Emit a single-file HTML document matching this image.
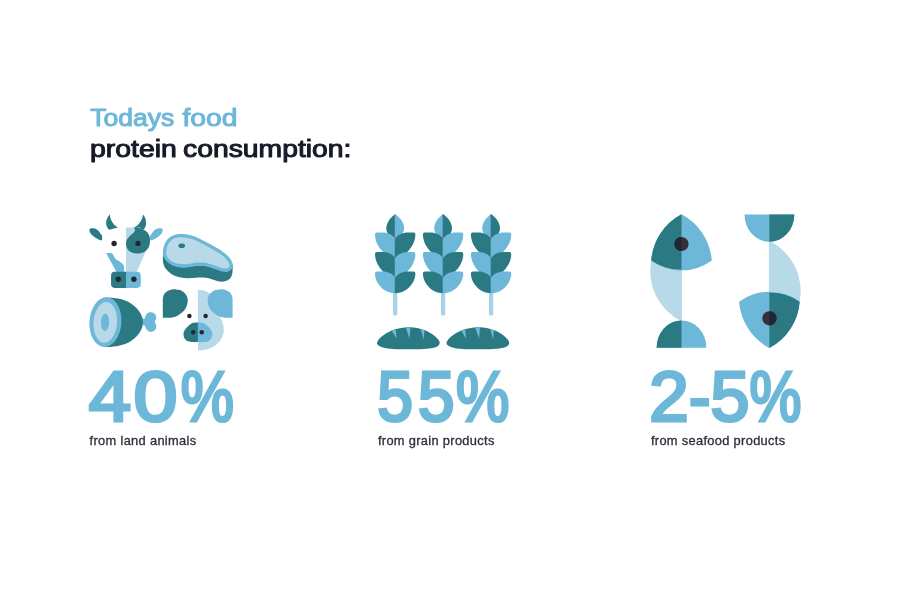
<!DOCTYPE html>
<html lang="en"><head><meta charset="utf-8"><title>Todays food protein consumption</title>
<style>
html,body{margin:0;padding:0;background:#fff;}
body{width:900px;height:600px;overflow:hidden;font-family:"Liberation Sans",Arial,sans-serif;}
svg{display:block;}
</style></head><body>
<svg width="900" height="600" viewBox="0 0 900 600">
<rect width="900" height="600" fill="#ffffff"/>
<path d="M89.40,230.50 C89.30,229.80 89.50,229.38 89.80,229.00 C90.10,228.62 90.50,228.32 91.20,228.20 C91.90,228.08 93.07,228.10 94.00,228.30 C94.93,228.50 96.00,228.92 96.80,229.40 C97.60,229.88 98.13,230.43 98.80,231.20 C99.47,231.97 100.27,233.23 100.80,234.00 C101.33,234.77 101.82,234.78 102.00,235.80 C102.18,236.82 102.37,239.45 101.90,240.10 C101.43,240.75 100.18,240.03 99.20,239.70 C98.22,239.37 97.07,238.77 96.00,238.10 C94.93,237.43 93.73,236.52 92.80,235.70 C91.87,234.88 90.97,234.07 90.40,233.20 C89.83,232.33 89.50,231.20 89.40,230.50Z" fill="#2b7a83"/>
<path d="M162.80,230.50 C162.90,229.80 162.70,229.38 162.40,229.00 C162.10,228.62 161.70,228.32 161.00,228.20 C160.30,228.08 159.13,228.10 158.20,228.30 C157.27,228.50 156.20,228.92 155.40,229.40 C154.60,229.88 154.07,230.43 153.40,231.20 C152.73,231.97 151.93,233.23 151.40,234.00 C150.87,234.77 150.38,234.78 150.20,235.80 C150.02,236.82 149.83,239.45 150.30,240.10 C150.77,240.75 152.02,240.03 153.00,239.70 C153.98,239.37 155.13,238.77 156.20,238.10 C157.27,237.43 158.47,236.52 159.40,235.70 C160.33,234.88 161.23,234.07 161.80,233.20 C162.37,232.33 162.70,231.20 162.80,230.50Z" fill="#6db7d8"/>
<path d="M109.7,214.3 C107,217.5 105.6,221.5 106.2,224.5 C106.7,227 108,228.8 109.3,229.8 L118,227.5 C114,225.5 110.3,221 109.7,214.3Z" fill="#2b7a83"/>
<path d="M143,214.6 C145.6,217.5 146.6,221.5 146,224.5 C145.5,227 144.8,228.3 143.7,229.6 L134.3,227.6 C138.5,225.5 142.2,221 143,214.6Z" fill="#2b7a83"/>
<path d="M126,227.4 L140,227.4 L149,240 L146.2,250.5 L136.7,271.9 L126,271.9Z" fill="#b7d9e8"/>
<path d="M134.40,227.30 C133.73,227.60 135.05,228.98 135.00,229.80 C134.95,230.62 134.70,231.40 134.10,232.20 C133.50,233.00 132.35,233.70 131.40,234.60 C130.45,235.50 129.20,236.60 128.40,237.60 C127.60,238.60 127.00,239.60 126.60,240.60 C126.20,241.60 126.00,242.50 126.00,243.60 C126.00,244.70 126.20,246.10 126.60,247.20 C127.00,248.30 127.60,249.35 128.40,250.20 C129.20,251.05 130.20,251.75 131.40,252.30 C132.60,252.85 134.10,253.35 135.60,253.50 C137.10,253.65 138.90,253.50 140.40,253.20 C141.90,252.90 143.40,252.40 144.60,251.70 C145.80,251.00 146.80,250.05 147.60,249.00 C148.40,247.95 149.00,246.70 149.40,245.40 C149.80,244.10 149.95,242.60 150.00,241.20 C150.05,239.80 150.00,238.30 149.70,237.00 C149.40,235.70 148.85,234.40 148.20,233.40 C147.55,232.40 146.62,231.67 145.80,231.00 C144.98,230.33 144.43,229.90 143.30,229.40 C142.17,228.90 140.48,228.35 139.00,228.00 C137.52,227.65 135.07,227.00 134.40,227.30Z" fill="#2b7a83"/>
<path d="M106.25,253.30 C106.67,253.23 107.84,252.90 108.75,252.90 C109.66,252.90 110.87,252.82 111.70,253.30 C112.53,253.78 113.13,254.89 113.75,255.80 C114.37,256.71 114.49,257.84 115.40,258.75 C116.31,259.66 118.02,260.42 119.20,261.25 C120.38,262.08 121.70,262.84 122.50,263.75 C123.30,264.66 123.77,265.34 124.00,266.70 C124.23,268.06 123.92,271.03 123.90,271.90 L116.5,271.9 L106.25,253.3Z" fill="#6db7d8"/>
<rect x="111.1" y="271.7" width="29.7" height="16.2" rx="3.8" fill="#6db7d8"/>
<path d="M126,271.7 L114.9,271.7 A3.8,3.8 0 0 0 111.1,275.5 L111.1,284.1 A3.8,3.8 0 0 0 114.9,287.9 L126,287.9Z" fill="#2b7a83"/>
<circle cx="118.3" cy="279.3" r="2.7" fill="#26262f"/>
<circle cx="133.9" cy="279.3" r="2.7" fill="#26262f"/>
<circle cx="114.1" cy="243.5" r="2.7" fill="#26262f"/>
<circle cx="138.0" cy="243.4" r="2.7" fill="#26262f"/>
<path d="M163.00,254.00 C162.98,254.67 162.85,256.45 162.90,258.00 C162.95,259.55 162.78,261.45 163.30,263.30 C163.82,265.15 164.67,267.32 166.00,269.10 C167.33,270.88 169.23,272.67 171.30,274.00 C173.37,275.33 175.88,276.38 178.40,277.10 C180.92,277.82 183.58,278.20 186.40,278.30 C189.22,278.40 192.63,277.85 195.30,277.70 C197.97,277.55 200.17,277.30 202.40,277.40 C204.63,277.50 206.62,277.83 208.70,278.30 C210.78,278.77 212.98,279.65 214.90,280.20 C216.82,280.75 218.42,281.45 220.20,281.60 C221.98,281.75 223.97,281.63 225.60,281.10 C227.23,280.57 228.90,279.58 230.00,278.40 C231.10,277.22 231.75,275.77 232.20,274.00 C232.65,272.23 232.65,269.47 232.70,267.80 C232.75,266.13 232.53,264.63 232.50,264.00 L200,250Z" fill="#2b7a83"/>
<clipPath id="stk"><path d="M163.00,254.00 C162.92,252.42 163.00,250.08 163.50,248.00 C164.00,245.92 164.75,243.42 166.00,241.50 C167.25,239.58 169.00,237.72 171.00,236.50 C173.00,235.28 175.67,234.58 178.00,234.20 C180.33,233.82 182.50,233.90 185.00,234.20 C187.50,234.50 190.50,235.20 193.00,236.00 C195.50,236.80 197.50,237.83 200.00,239.00 C202.50,240.17 205.17,241.50 208.00,243.00 C210.83,244.50 214.17,246.25 217.00,248.00 C219.83,249.75 222.83,251.75 225.00,253.50 C227.17,255.25 228.75,256.83 230.00,258.50 C231.25,260.17 232.08,262.08 232.50,263.50 C232.92,264.92 232.92,265.83 232.50,267.00 C232.08,268.17 231.08,269.70 230.00,270.50 C228.92,271.30 227.50,271.72 226.00,271.80 C224.50,271.88 222.83,271.47 221.00,271.00 C219.17,270.53 217.00,269.67 215.00,269.00 C213.00,268.33 211.00,267.53 209.00,267.00 C207.00,266.47 205.00,266.00 203.00,265.80 C201.00,265.60 199.00,265.63 197.00,265.80 C195.00,265.97 193.00,266.52 191.00,266.80 C189.00,267.08 187.17,267.47 185.00,267.50 C182.83,267.53 180.17,267.42 178.00,267.00 C175.83,266.58 173.83,265.92 172.00,265.00 C170.17,264.08 168.33,262.75 167.00,261.50 C165.67,260.25 164.67,258.75 164.00,257.50 C163.33,256.25 163.08,255.58 163.00,254.00Z"/></clipPath>
<path d="M163.00,254.00 C162.92,252.42 163.00,250.08 163.50,248.00 C164.00,245.92 164.75,243.42 166.00,241.50 C167.25,239.58 169.00,237.72 171.00,236.50 C173.00,235.28 175.67,234.58 178.00,234.20 C180.33,233.82 182.50,233.90 185.00,234.20 C187.50,234.50 190.50,235.20 193.00,236.00 C195.50,236.80 197.50,237.83 200.00,239.00 C202.50,240.17 205.17,241.50 208.00,243.00 C210.83,244.50 214.17,246.25 217.00,248.00 C219.83,249.75 222.83,251.75 225.00,253.50 C227.17,255.25 228.75,256.83 230.00,258.50 C231.25,260.17 232.08,262.08 232.50,263.50 C232.92,264.92 232.92,265.83 232.50,267.00 C232.08,268.17 231.08,269.70 230.00,270.50 C228.92,271.30 227.50,271.72 226.00,271.80 C224.50,271.88 222.83,271.47 221.00,271.00 C219.17,270.53 217.00,269.67 215.00,269.00 C213.00,268.33 211.00,267.53 209.00,267.00 C207.00,266.47 205.00,266.00 203.00,265.80 C201.00,265.60 199.00,265.63 197.00,265.80 C195.00,265.97 193.00,266.52 191.00,266.80 C189.00,267.08 187.17,267.47 185.00,267.50 C182.83,267.53 180.17,267.42 178.00,267.00 C175.83,266.58 173.83,265.92 172.00,265.00 C170.17,264.08 168.33,262.75 167.00,261.50 C165.67,260.25 164.67,258.75 164.00,257.50 C163.33,256.25 163.08,255.58 163.00,254.00Z" fill="#b7d9e8" stroke="#6db7d8" stroke-width="6.4" clip-path="url(#stk)"/>
<ellipse cx="181.7" cy="245.7" rx="3.3" ry="2.3" fill="#2b7a83"/>
<path d="M141.00,319.00 C141.58,317.92 143.75,319.00 144.50,318.50 C145.25,318.00 145.08,316.83 145.50,316.00 C145.92,315.17 146.25,314.13 147.00,313.50 C147.75,312.87 148.92,312.32 150.00,312.20 C151.08,312.08 152.53,312.25 153.50,312.80 C154.47,313.35 155.37,314.47 155.80,315.50 C156.23,316.53 156.27,317.95 156.10,319.00 C155.93,320.05 154.82,320.88 154.80,321.80 C154.78,322.72 155.75,323.55 156.00,324.50 C156.25,325.45 156.55,326.50 156.30,327.50 C156.05,328.50 155.38,329.77 154.50,330.50 C153.62,331.23 152.17,331.90 151.00,331.90 C149.83,331.90 148.38,331.15 147.50,330.50 C146.62,329.85 146.20,328.83 145.70,328.00 C145.20,327.17 145.28,326.00 144.50,325.50 C143.72,325.00 141.58,326.08 141.00,325.00 C140.42,323.92 140.42,320.08 141.00,319.00Z" fill="#6db7d8"/>
<path d="M107.00,297.60 C107.50,297.63 108.17,297.65 110.00,297.80 C111.83,297.95 115.50,298.05 118.00,298.50 C120.50,298.95 122.83,299.67 125.00,300.50 C127.17,301.33 129.17,302.33 131.00,303.50 C132.83,304.67 134.50,306.00 136.00,307.50 C137.50,309.00 138.97,310.83 140.00,312.50 C141.03,314.17 141.72,315.92 142.20,317.50 C142.68,319.08 142.90,320.42 142.90,322.00 C142.90,323.58 142.68,325.33 142.20,327.00 C141.72,328.67 141.03,330.33 140.00,332.00 C138.97,333.67 137.50,335.50 136.00,337.00 C134.50,338.50 132.83,339.83 131.00,341.00 C129.17,342.17 127.17,343.17 125.00,344.00 C122.83,344.83 120.50,345.50 118.00,346.00 C115.50,346.50 112.25,346.83 110.00,347.00 C107.75,347.17 105.42,347.00 104.50,347.00 L104,340 L107,305Z" fill="#2b7a83"/>
<ellipse cx="105.4" cy="322.1" rx="16" ry="24.9" transform="rotate(4 105.4 322.1)" fill="#6db7d8"/>
<ellipse cx="105.3" cy="322.4" rx="11.8" ry="20.4" transform="rotate(4 105.3 322.4)" fill="#b7d9e8"/>
<ellipse cx="105.1" cy="322.3" rx="4.1" ry="8.7" transform="rotate(2 105.1 322.3)" fill="#6db7d8"/>
<path d="M197.9,289.75 C205,289.75 211,293 214,298 L220,317.5 C222.5,321 223.75,326 223.75,330 C223.75,342 212,350.6 197.9,350.6Z" fill="#b7d9e8"/>
<path d="M162.8,317.7 L162.80,299.50 C162.90,298.88 163.00,296.92 163.40,295.80 C163.80,294.68 164.40,293.65 165.20,292.80 C166.00,291.95 167.10,291.23 168.20,290.70 C169.30,290.17 170.50,289.82 171.80,289.60 C173.10,289.38 174.60,289.32 176.00,289.40 C177.40,289.48 178.90,289.63 180.20,290.10 C181.50,290.57 182.75,291.30 183.80,292.20 C184.85,293.10 185.85,294.30 186.50,295.50 C187.15,296.70 187.55,298.05 187.70,299.40 C187.85,300.75 187.75,302.10 187.40,303.60 C187.05,305.10 186.50,306.90 185.60,308.40 C184.70,309.90 183.40,311.35 182.00,312.60 C180.60,313.85 178.90,315.07 177.20,315.90 C175.50,316.73 173.50,317.30 171.80,317.60 C170.10,317.90 167.80,317.68 167.00,317.70 Z" fill="#2b7a83"/>
<path d="M162.8,317.7 L162.80,299.50 C162.90,298.88 163.00,296.92 163.40,295.80 C163.80,294.68 164.40,293.65 165.20,292.80 C166.00,291.95 167.10,291.23 168.20,290.70 C169.30,290.17 170.50,289.82 171.80,289.60 C173.10,289.38 174.60,289.32 176.00,289.40 C177.40,289.48 178.90,289.63 180.20,290.10 C181.50,290.57 182.75,291.30 183.80,292.20 C184.85,293.10 185.85,294.30 186.50,295.50 C187.15,296.70 187.55,298.05 187.70,299.40 C187.85,300.75 187.75,302.10 187.40,303.60 C187.05,305.10 186.50,306.90 185.60,308.40 C184.70,309.90 183.40,311.35 182.00,312.60 C180.60,313.85 178.90,315.07 177.20,315.90 C175.50,316.73 173.50,317.30 171.80,317.60 C170.10,317.90 167.80,317.68 167.00,317.70 Z" fill="#6db7d8" transform="translate(395.4 0) scale(-1 1)"/>
<path d="M198.4,322.5 L197.90,322.50 C197.00,322.60 194.13,322.48 192.50,323.10 C190.87,323.73 189.39,325.10 188.10,326.25 C186.81,327.40 185.52,328.75 184.75,330.00 C183.98,331.25 183.56,332.40 183.50,333.75 C183.44,335.10 183.73,336.85 184.40,338.10 C185.07,339.35 186.15,340.58 187.50,341.25 C188.85,341.92 190.77,341.96 192.50,342.10 C194.23,342.24 197.00,342.10 197.90,342.10Z" fill="#6db7d8" transform="translate(395.8 0) scale(-1 1)"/>
<rect x="197.4" y="322.6" width="1" height="19.4" fill="#6db7d8"/>
<path d="M197.90,322.50 C197.00,322.60 194.13,322.48 192.50,323.10 C190.87,323.73 189.39,325.10 188.10,326.25 C186.81,327.40 185.52,328.75 184.75,330.00 C183.98,331.25 183.56,332.40 183.50,333.75 C183.44,335.10 183.73,336.85 184.40,338.10 C185.07,339.35 186.15,340.58 187.50,341.25 C188.85,341.92 190.77,341.96 192.50,342.10 C194.23,342.24 197.00,342.10 197.90,342.10Z" fill="#2b7a83"/>
<circle cx="189.4" cy="316.0" r="2.25" fill="#26262f"/>
<circle cx="205.6" cy="316.0" r="2.25" fill="#26262f"/>
<circle cx="193.2" cy="332.3" r="2.25" fill="#26262f"/>
<circle cx="201.7" cy="332.3" r="2.25" fill="#26262f"/>
<g transform="translate(395.20 0)"><rect x="-2.15" y="288" width="4.3" height="27.8" rx="2.15" fill="#a9d3e6"/><path d="M0.4,214.3 L0,214 C-4.6,217.6 -8.9,222.5 -8.9,228.5 C-8.9,234 -4,238 0,241 L0.4,241Z" fill="#2b7a83"/><path d="M0.4,214.3 L0,214 C-4.6,217.6 -8.9,222.5 -8.9,228.5 C-8.9,234 -4,238 0,241 L0.4,241Z" fill="#6db7d8" transform="scale(-1 1)"/><path d="M0.4,238.50 L0,238.50 C-2.5,234.90 -7,232.40 -13,232.40 L-18.3,232.40 Q-20.2,232.40 -20.2,234.40 C-20.2,248.20 -6.00,258.40 0,258.40 L0.4,258.40 Z" fill="#6db7d8"/><path d="M0.4,238.50 L0,238.50 C-2.5,234.90 -7,232.40 -13,232.40 L-18.3,232.40 Q-20.2,232.40 -20.2,234.40 C-20.2,248.20 -6.00,258.40 0,258.40 L0.4,258.40 Z" fill="#2b7a83" transform="scale(-1 1)"/><path d="M0.4,258.10 L0,258.10 C-2.5,254.50 -7,252.00 -13,252.00 L-18.3,252.00 Q-20.2,252.00 -20.2,254.00 C-20.2,267.80 -6.00,278.00 0,278.00 L0.4,278.00 Z" fill="#2b7a83"/><path d="M0.4,258.10 L0,258.10 C-2.5,254.50 -7,252.00 -13,252.00 L-18.3,252.00 Q-20.2,252.00 -20.2,254.00 C-20.2,267.80 -6.00,278.00 0,278.00 L0.4,278.00 Z" fill="#6db7d8" transform="scale(-1 1)"/><path d="M0.4,277.70 L0,277.70 C-2.5,274.10 -7,271.60 -13,271.60 L-18.3,271.60 Q-20.2,271.60 -20.2,273.60 C-20.2,282.90 -11.60,293.30 0,293.30 L0.4,293.30 Z" fill="#6db7d8"/><path d="M0.4,277.70 L0,277.70 C-2.5,274.10 -7,271.60 -13,271.60 L-18.3,271.60 Q-20.2,271.60 -20.2,273.60 C-20.2,282.90 -11.60,293.30 0,293.30 L0.4,293.30 Z" fill="#2b7a83" transform="scale(-1 1)"/></g>
<g transform="translate(443.10 0)"><rect x="-2.15" y="288" width="4.3" height="27.8" rx="2.15" fill="#a9d3e6"/><path d="M0.4,214.3 L0,214 C-4.6,217.6 -8.9,222.5 -8.9,228.5 C-8.9,234 -4,238 0,241 L0.4,241Z" fill="#6db7d8"/><path d="M0.4,214.3 L0,214 C-4.6,217.6 -8.9,222.5 -8.9,228.5 C-8.9,234 -4,238 0,241 L0.4,241Z" fill="#2b7a83" transform="scale(-1 1)"/><path d="M0.4,238.50 L0,238.50 C-2.5,234.90 -7,232.40 -13,232.40 L-18.3,232.40 Q-20.2,232.40 -20.2,234.40 C-20.2,248.20 -6.00,258.40 0,258.40 L0.4,258.40 Z" fill="#2b7a83"/><path d="M0.4,238.50 L0,238.50 C-2.5,234.90 -7,232.40 -13,232.40 L-18.3,232.40 Q-20.2,232.40 -20.2,234.40 C-20.2,248.20 -6.00,258.40 0,258.40 L0.4,258.40 Z" fill="#6db7d8" transform="scale(-1 1)"/><path d="M0.4,258.10 L0,258.10 C-2.5,254.50 -7,252.00 -13,252.00 L-18.3,252.00 Q-20.2,252.00 -20.2,254.00 C-20.2,267.80 -6.00,278.00 0,278.00 L0.4,278.00 Z" fill="#6db7d8"/><path d="M0.4,258.10 L0,258.10 C-2.5,254.50 -7,252.00 -13,252.00 L-18.3,252.00 Q-20.2,252.00 -20.2,254.00 C-20.2,267.80 -6.00,278.00 0,278.00 L0.4,278.00 Z" fill="#2b7a83" transform="scale(-1 1)"/><path d="M0.4,277.70 L0,277.70 C-2.5,274.10 -7,271.60 -13,271.60 L-18.3,271.60 Q-20.2,271.60 -20.2,273.60 C-20.2,282.90 -11.60,293.30 0,293.30 L0.4,293.30 Z" fill="#2b7a83"/><path d="M0.4,277.70 L0,277.70 C-2.5,274.10 -7,271.60 -13,271.60 L-18.3,271.60 Q-20.2,271.60 -20.2,273.60 C-20.2,282.90 -11.60,293.30 0,293.30 L0.4,293.30 Z" fill="#6db7d8" transform="scale(-1 1)"/></g>
<g transform="translate(491.10 0)"><rect x="-2.15" y="288" width="4.3" height="27.8" rx="2.15" fill="#a9d3e6"/><path d="M0.4,214.3 L0,214 C-4.6,217.6 -8.9,222.5 -8.9,228.5 C-8.9,234 -4,238 0,241 L0.4,241Z" fill="#6db7d8"/><path d="M0.4,214.3 L0,214 C-4.6,217.6 -8.9,222.5 -8.9,228.5 C-8.9,234 -4,238 0,241 L0.4,241Z" fill="#2b7a83" transform="scale(-1 1)"/><path d="M0.4,238.50 L0,238.50 C-2.5,234.90 -7,232.40 -13,232.40 L-18.3,232.40 Q-20.2,232.40 -20.2,234.40 C-20.2,248.20 -6.00,258.40 0,258.40 L0.4,258.40 Z" fill="#2b7a83"/><path d="M0.4,238.50 L0,238.50 C-2.5,234.90 -7,232.40 -13,232.40 L-18.3,232.40 Q-20.2,232.40 -20.2,234.40 C-20.2,248.20 -6.00,258.40 0,258.40 L0.4,258.40 Z" fill="#6db7d8" transform="scale(-1 1)"/><path d="M0.4,258.10 L0,258.10 C-2.5,254.50 -7,252.00 -13,252.00 L-18.3,252.00 Q-20.2,252.00 -20.2,254.00 C-20.2,267.80 -6.00,278.00 0,278.00 L0.4,278.00 Z" fill="#6db7d8"/><path d="M0.4,258.10 L0,258.10 C-2.5,254.50 -7,252.00 -13,252.00 L-18.3,252.00 Q-20.2,252.00 -20.2,254.00 C-20.2,267.80 -6.00,278.00 0,278.00 L0.4,278.00 Z" fill="#2b7a83" transform="scale(-1 1)"/><path d="M0.4,277.70 L0,277.70 C-2.5,274.10 -7,271.60 -13,271.60 L-18.3,271.60 Q-20.2,271.60 -20.2,273.60 C-20.2,282.90 -11.60,293.30 0,293.30 L0.4,293.30 Z" fill="#2b7a83"/><path d="M0.4,277.70 L0,277.70 C-2.5,274.10 -7,271.60 -13,271.60 L-18.3,271.60 Q-20.2,271.60 -20.2,273.60 C-20.2,282.90 -11.60,293.30 0,293.30 L0.4,293.30 Z" fill="#6db7d8" transform="scale(-1 1)"/></g>
<g transform="translate(0.0 0)"><path d="M377.00,343.00 C377.13,341.67 378.38,339.67 380.00,338.00 C381.62,336.33 384.20,334.45 386.70,333.00 C389.20,331.55 391.95,330.22 395.00,329.30 C398.05,328.38 401.95,327.80 405.00,327.50 C408.05,327.20 410.25,327.13 413.30,327.50 C416.35,327.87 420.23,328.65 423.30,329.70 C426.37,330.75 429.33,332.28 431.70,333.80 C434.07,335.32 436.17,337.27 437.50,338.80 C438.83,340.33 439.83,341.68 439.70,343.00 C439.57,344.32 438.87,345.73 436.70,346.70 C434.53,347.67 430.60,348.37 426.70,348.80 C422.80,349.23 418.30,349.23 413.30,349.30 C408.30,349.37 401.42,349.42 396.70,349.20 C391.98,348.98 387.92,348.53 385.00,348.00 C382.08,347.47 380.53,346.83 379.20,346.00 C377.87,345.17 376.87,344.33 377.00,343.00Z" fill="#2b7a83"/><path d="M391.7,330.8 L395.8,329.3 L396.7,338.8Z" fill="#6db7d8"/><path d="M405.8,327.6 L410.5,327.6 L409.5,338.8Z" fill="#6db7d8"/><path d="M420.8,329.2 L424.4,330.2 L423.7,339.7Z" fill="#6db7d8"/></g>
<g transform="translate(69.5 0)"><path d="M377.00,343.00 C377.13,341.67 378.38,339.67 380.00,338.00 C381.62,336.33 384.20,334.45 386.70,333.00 C389.20,331.55 391.95,330.22 395.00,329.30 C398.05,328.38 401.95,327.80 405.00,327.50 C408.05,327.20 410.25,327.13 413.30,327.50 C416.35,327.87 420.23,328.65 423.30,329.70 C426.37,330.75 429.33,332.28 431.70,333.80 C434.07,335.32 436.17,337.27 437.50,338.80 C438.83,340.33 439.83,341.68 439.70,343.00 C439.57,344.32 438.87,345.73 436.70,346.70 C434.53,347.67 430.60,348.37 426.70,348.80 C422.80,349.23 418.30,349.23 413.30,349.30 C408.30,349.37 401.42,349.42 396.70,349.20 C391.98,348.98 387.92,348.53 385.00,348.00 C382.08,347.47 380.53,346.83 379.20,346.00 C377.87,345.17 376.87,344.33 377.00,343.00Z" fill="#2b7a83"/><path d="M391.7,330.8 L395.8,329.3 L396.7,338.8Z" fill="#6db7d8"/><path d="M405.8,327.6 L410.5,327.6 L409.5,338.8Z" fill="#6db7d8"/><path d="M420.8,329.2 L424.4,330.2 L423.7,339.7Z" fill="#6db7d8"/></g>
<g><path d="M682,263 L651.2,261 A55.6,55.6 0 0 0 681.5,321.2 L682,321Z" fill="#b7d9e8"/><path d="M681.5,214.25 A57.5,57.5 0 0 0 651.2,260.6 A51.5,51.5 0 0 0 711.8,260.6 A57.5,57.5 0 0 0 681.5,214.25Z" fill="#6db7d8"/><path d="M681.5,214.25 A57.5,57.5 0 0 0 651.2,260.6 A51.5,51.5 0 0 0 681.5,269.6Z" fill="#2b7a83"/><circle cx="681.5" cy="244" r="7.1" fill="#392f39"/><path d="M681.5,236.9 A7.1,7.1 0 0 0 681.5,251.1Z" fill="#1f2733"/><path d="M656.6,347.8 A24.9,27.3 0 0 1 706.4,347.8Z" fill="#6db7d8"/><path d="M656.6,347.8 A24.9,27.3 0 0 1 681.5,320.5 L681.5,347.8Z" fill="#2b7a83"/></g>
<g transform="rotate(180 725.45 281.15)"><path d="M682,263 L651.2,261 A55.6,55.6 0 0 0 681.5,321.2 L682,321Z" fill="#b7d9e8"/><path d="M681.5,214.25 A57.5,57.5 0 0 0 651.2,260.6 A51.5,51.5 0 0 0 711.8,260.6 A57.5,57.5 0 0 0 681.5,214.25Z" fill="#6db7d8"/><path d="M681.5,214.25 A57.5,57.5 0 0 0 651.2,260.6 A51.5,51.5 0 0 0 681.5,269.6Z" fill="#2b7a83"/><circle cx="681.5" cy="244" r="7.1" fill="#392f39"/><path d="M681.5,236.9 A7.1,7.1 0 0 0 681.5,251.1Z" fill="#1f2733"/><path d="M656.6,347.8 A24.9,27.3 0 0 1 706.4,347.8Z" fill="#6db7d8"/><path d="M656.6,347.8 A24.9,27.3 0 0 1 681.5,320.5 L681.5,347.8Z" fill="#2b7a83"/></g>
<text y="420.90" font-family="Liberation Sans, Arial, sans-serif" font-weight="400" font-size="70.2" stroke="#6db7d8" stroke-width="3.20" stroke-linejoin="miter" stroke-miterlimit="3" fill="#6db7d8"><tspan x="88.79" textLength="42.31" lengthAdjust="spacingAndGlyphs">4</tspan><tspan x="133.61" textLength="43.97" lengthAdjust="spacingAndGlyphs">0</tspan><tspan x="180.73" textLength="53.14" lengthAdjust="spacingAndGlyphs">%</tspan></text>
<text y="420.90" font-family="Liberation Sans, Arial, sans-serif" font-weight="400" font-size="70.2" stroke="#6db7d8" stroke-width="3.20" stroke-linejoin="miter" stroke-miterlimit="3" fill="#6db7d8"><tspan x="377.19" textLength="35.74" lengthAdjust="spacingAndGlyphs">5</tspan><tspan x="418.07" textLength="36.49" lengthAdjust="spacingAndGlyphs">5</tspan><tspan x="455.93" textLength="53.34" lengthAdjust="spacingAndGlyphs">%</tspan></text>
<text y="420.90" font-family="Liberation Sans, Arial, sans-serif" font-weight="400" font-size="70.2" stroke="#6db7d8" stroke-width="3.20" stroke-linejoin="miter" stroke-miterlimit="3" fill="#6db7d8"><tspan x="649.25" textLength="39.51" lengthAdjust="spacingAndGlyphs">2</tspan><tspan x="688.90" textLength="21.49" lengthAdjust="spacingAndGlyphs">-</tspan><tspan x="710.49" textLength="38.95" lengthAdjust="spacingAndGlyphs">5</tspan><tspan x="749.45" textLength="51.90" lengthAdjust="spacingAndGlyphs">%</tspan></text>
<text y="125.8" font-family="Liberation Sans, Arial, sans-serif" font-weight="400" font-size="23.5" fill="#6db7d8" stroke="#6db7d8" stroke-width="1" stroke-linejoin="round"><tspan x="90.27" textLength="84.01" lengthAdjust="spacingAndGlyphs">Todays</tspan> <tspan x="182.40" textLength="55.02" lengthAdjust="spacingAndGlyphs">food</tspan></text>
<text y="157.4" font-family="Liberation Sans, Arial, sans-serif" font-weight="400" font-size="23.5" fill="#171b27" stroke="#171b27" stroke-width="1" stroke-linejoin="round"><tspan x="90.07" textLength="86.87" lengthAdjust="spacingAndGlyphs">protein</tspan> <tspan x="183.10" textLength="168.28" lengthAdjust="spacingAndGlyphs">consumption:</tspan></text>
<text transform="translate(89.6 444.8) scale(1.072 1)" font-family="Liberation Sans, Arial, sans-serif" font-size="12" letter-spacing="0.3" fill="#2c303b" stroke="#2c303b" stroke-width="0.3">from land animals</text>
<text transform="translate(377.9 444.8) scale(1.072 1)" font-family="Liberation Sans, Arial, sans-serif" font-size="12" letter-spacing="0.3" fill="#2c303b" stroke="#2c303b" stroke-width="0.3">from grain products</text>
<text transform="translate(650.9 444.8) scale(1.072 1)" font-family="Liberation Sans, Arial, sans-serif" font-size="12" letter-spacing="0.3" fill="#2c303b" stroke="#2c303b" stroke-width="0.3">from seafood products</text>
</svg>
</body></html>
